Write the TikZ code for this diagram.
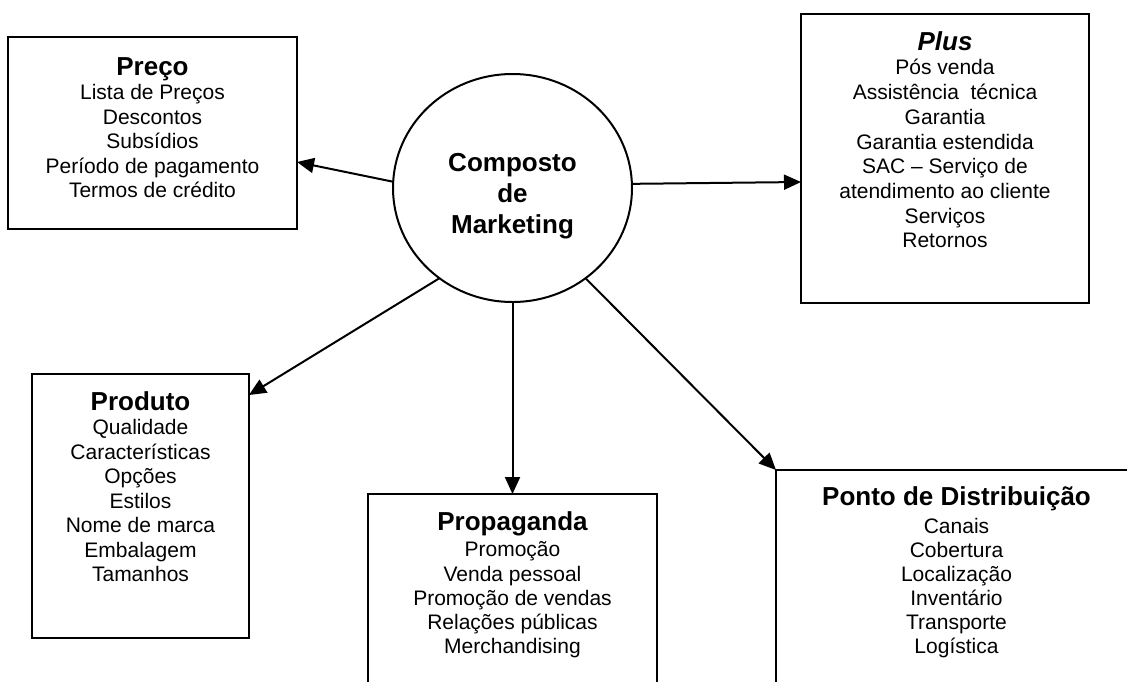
\documentclass[tikz,border=0pt]{standalone}
\usepackage{fontspec}
\setmainfont{Liberation Sans}
\usetikzlibrary{shapes.geometric,arrows.meta}
\tikzset{
  box/.style={draw, line width=2pt, rectangle, inner sep=0pt, outer sep=0pt},
  hub/.style={draw, line width=2pt, ellipse, inner sep=0pt, outer sep=0pt, minimum width=239pt, minimum height=228pt},
  txt/.style={anchor=north, inner sep=0pt, align=center, font=\fontsize{21}{24.5}\selectfont},
  arr/.style={line width=2pt, -{Triangle[length=17pt,width=15pt]}},
}
\newcommand{\ttl}[1]{{\fontsize{26}{26}\selectfont\bfseries\rule{0pt}{24pt}#1}}
\begin{document}
\begin{tikzpicture}[x=1pt,y=-1pt]
\useasboundingbox (0,0) rectangle (1127,681);
\clip (0,0) rectangle (1127,681);
% boxes
\node[box, minimum width=289pt, minimum height=192pt] (preco) at (152.5,133) {};
\node[box, minimum width=288pt, minimum height=289pt] (plus) at (945,158.5) {};
\node[box, minimum width=217pt, minimum height=264pt] (produto) at (140.5,506) {};
\node[box, minimum width=289pt, minimum height=226pt] (prop) at (512.5,607) {};
\node[box, minimum width=361pt, minimum height=250pt] (ponto) at (956.5,595) {};
\node[hub] (mk) at (512.5,188) {};
% texts
\node[txt, font=\fontsize{26}{31}\selectfont\bfseries] (mkt) at (512.5,147) {\rule{0pt}{24pt}Composto\\de\\Marketing};
\node[txt] (precot) at (152.5,51) {\ttl{Preço}\\Lista de Preços\\Descontos\\Subsídios\\Período de pagamento\\Termos de crédito};
\node[txt, font=\fontsize{21}{24.7}\selectfont] (plust) at (945,26) {{\fontsize{26}{26}\selectfont\bfseries\itshape\rule{0pt}{24pt}Plus}\\Pós venda\\Assistência\ \ técnica\\Garantia\\Garantia estendida\\SAC – Serviço de\\atendimento ao cliente\\Serviços\\Retornos};
\node[txt] (produtot) at (140.5,386) {\ttl{Produto}\\Qualidade\\Características\\Opções\\Estilos\\Nome de marca\\Embalagem\\Tamanhos};
\node[txt, font=\fontsize{21}{24.25}\selectfont] (propt) at (512.5,506) {\ttl{Propaganda}\\[2.5pt]Promoção\\Venda pessoal\\Promoção de vendas\\Relações públicas\\Merchandising};
\node[txt, font=\fontsize{21}{24}\selectfont] (pontot) at (956.5,481) {\ttl{Ponto de Distribuição}\\[4pt]Canais\\Cobertura\\Localização\\Inventário\\Transporte\\Logística};
% connectors
\draw[arr] (mk.177.6) -- ([yshift=-125pt]preco.north east);
\draw[arr] (mk.2.9) -- ([yshift=-168pt]plus.north west);
\draw[arr] (mk.231.5) -- ([yshift=-21pt]produto.north east);
\draw[arr] (mk.south) -- (prop.north);
\draw[arr] (mk.309.3) -- (ponto.north west);
\end{tikzpicture}
\end{document}
